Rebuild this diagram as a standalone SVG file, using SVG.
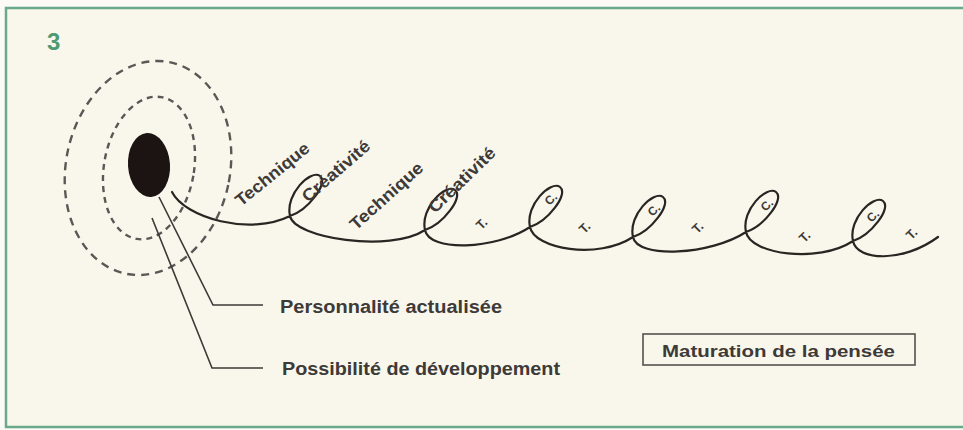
<svg xmlns="http://www.w3.org/2000/svg" width="963" height="430" viewBox="0 0 963 430">
  <defs>
    <style>
      .lbl { font-family: "Liberation Sans", Arial, sans-serif; font-weight: bold; fill: #3d3a38; }
      .dash { fill: none; stroke: #5a5856; stroke-width: 2.4; }
      .lead { fill: none; stroke: #3d3a38; stroke-width: 1.6; }
      .spiral { fill: none; stroke: #2a2523; stroke-width: 2.2; stroke-linecap: round; }
    </style>
  </defs>
  <rect x="0" y="0" width="963" height="430" fill="#fbfaf4"/>
  <g id="frame">
    <rect x="6" y="8" width="962" height="419" fill="#f9f7eb" stroke="#6aa98a" stroke-width="2.5"/>
    <text x="47" y="50" style="font-family: 'Liberation Sans', Arial, sans-serif; font-weight: bold; font-size: 24px; fill: #4f9b74;">3</text>
  </g>
  <g id="core">
    <ellipse class="dash" cx="148" cy="168" rx="82" ry="108" transform="rotate(12 148 168)" stroke-dasharray="8 6"/>
    <ellipse class="dash" cx="149" cy="168" rx="45" ry="72" transform="rotate(10 149 168)" stroke-dasharray="6 5"/>
    <ellipse cx="149" cy="165" rx="21" ry="32" transform="rotate(-4 149 165)" fill="#1c1313"/>
  </g>
  <g id="connectors">
    <path class="lead" d="M159,197 L213,305 L263,305"/>
    <path class="lead" d="M152,218 L212,368 L263,368"/>
  </g>
  <g id="spiral">
    <path class="spiral" d="M172,192 C185,218 250,236 290,216
      c 18,-6 39,-33 30,-40 c -9,-7 -35,18 -30,40
      c 4,22 100,37 135,14
      c 18,-6 39,-33 30,-40 c -9,-7 -35,18 -30,40
      c 4,22 70,20 105,-3
      c 18,-6 39,-33 30,-40 c -9,-7 -35,18 -30,40
      c 4,22 68,33 103,10
      c 18,-6 39,-33 30,-40 c -9,-7 -35,18 -30,40
      c 4,22 78,18 113,-5
      c 18,-6 39,-33 30,-40 c -9,-7 -35,18 -30,40
      c 4,22 72,32 107,9
      c 18,-6 39,-33 30,-40 c -9,-7 -35,18 -30,40
      c 4,20 50,22 85,-4"/>
  </g>
  <g id="spiral-labels">
    <text class="lbl" font-size="17" transform="translate(241,207) rotate(-39)" textLength="90" lengthAdjust="spacingAndGlyphs">Technique</text>
    <text class="lbl" font-size="17" transform="translate(308,203) rotate(-41)" textLength="84" lengthAdjust="spacingAndGlyphs">Créativité</text>
    <text class="lbl" font-size="17" transform="translate(356,231) rotate(-42)" textLength="92" lengthAdjust="spacingAndGlyphs">Technique</text>
    <text class="lbl" font-size="17" transform="translate(435,214) rotate(-44)" textLength="86" lengthAdjust="spacingAndGlyphs">Créativité</text>
    <text class="lbl" font-size="13" text-anchor="middle" transform="translate(482,224) rotate(-45)" y="4">T.</text>
    <text class="lbl" font-size="13" text-anchor="middle" transform="translate(585,228) rotate(-45)" y="4">T.</text>
    <text class="lbl" font-size="13" text-anchor="middle" transform="translate(698,228) rotate(-45)" y="4">T.</text>
    <text class="lbl" font-size="13" text-anchor="middle" transform="translate(805,237) rotate(-45)" y="4">T.</text>
    <text class="lbl" font-size="13" text-anchor="middle" transform="translate(912,234) rotate(-45)" y="4">T.</text>
    <text class="lbl" font-size="12" text-anchor="middle" transform="translate(551,199) rotate(-45)" y="4">C.</text>
    <text class="lbl" font-size="12" text-anchor="middle" transform="translate(654,210) rotate(-45)" y="4">C.</text>
    <text class="lbl" font-size="12" text-anchor="middle" transform="translate(767,205) rotate(-45)" y="4">C.</text>
    <text class="lbl" font-size="12" text-anchor="middle" transform="translate(873,216) rotate(-45)" y="4">C.</text>
  </g>
  <g id="label-personnalite">
    <text class="lbl" x="280" y="313" font-size="18" textLength="222" lengthAdjust="spacingAndGlyphs">Personnalité actualisée</text>
  </g>
  <g id="label-possibilite">
    <text class="lbl" x="282" y="375" font-size="18" textLength="278" lengthAdjust="spacingAndGlyphs">Possibilité de développement</text>
  </g>
  <g id="box-maturation">
    <rect x="643" y="334" width="272" height="31" fill="none" stroke="#555250" stroke-width="1.6"/>
    <text class="lbl" x="662" y="357" font-size="16.5" textLength="233" lengthAdjust="spacingAndGlyphs">Maturation de la pensée</text>
  </g>
</svg>
